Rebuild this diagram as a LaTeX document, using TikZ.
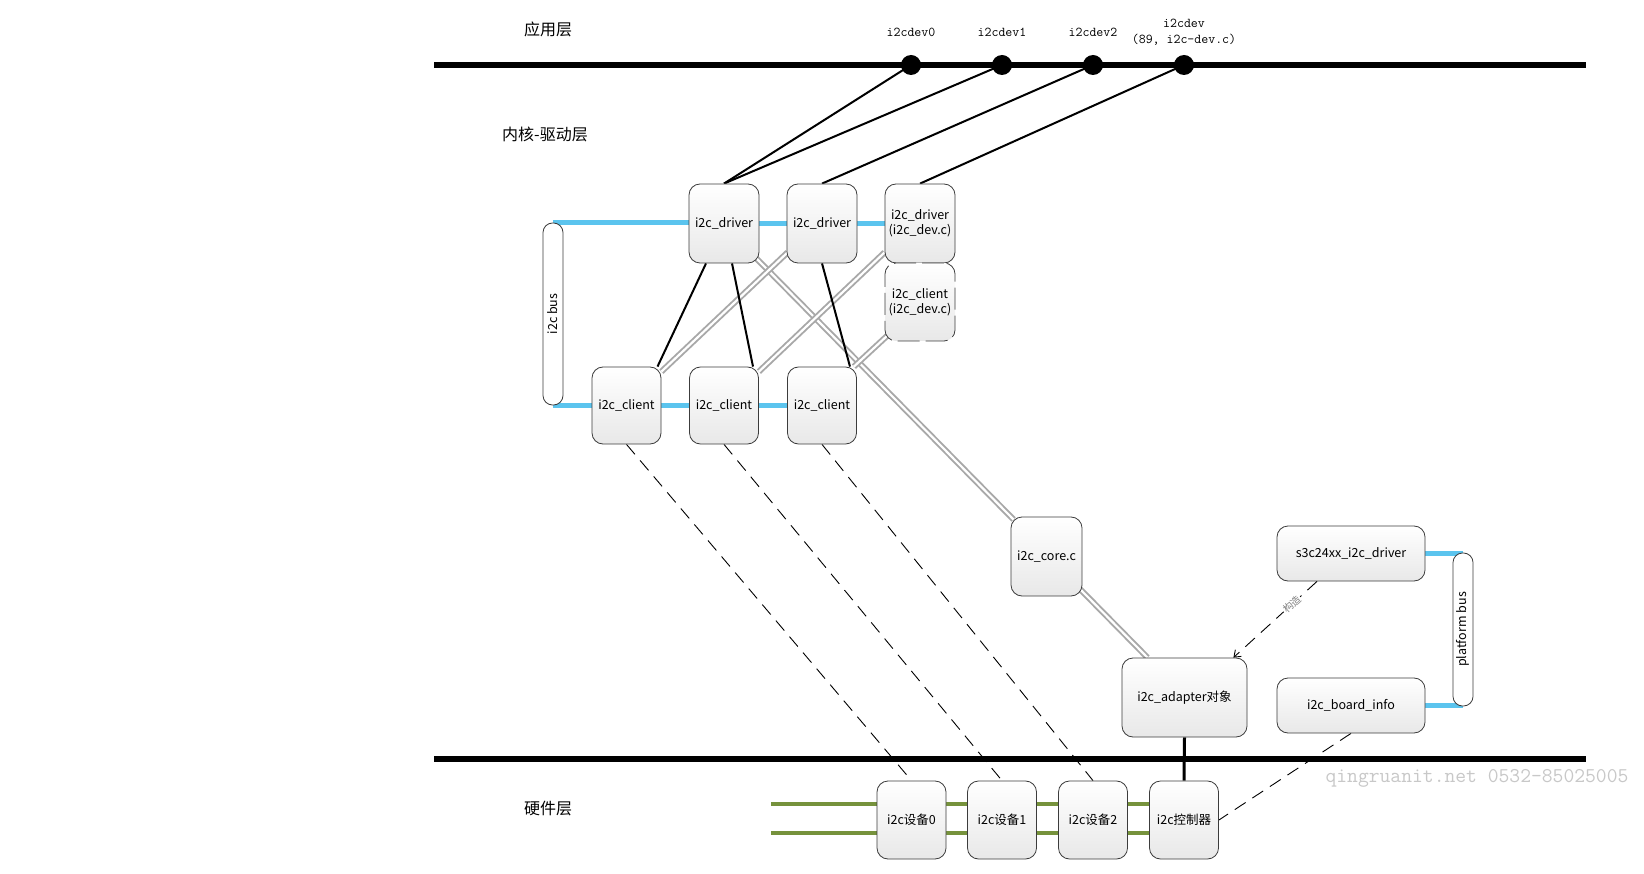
\documentclass[tikz,border=0pt]{standalone}
\usepackage{graphicx}
\usepackage{fontspec}
\setmainfont{Noto Sans CJK SC}
\usetikzlibrary{arrows.meta,backgrounds,calc}
\definecolor{busblue}{RGB}{91,196,238}
\definecolor{hwgreen}{RGB}{118,146,60}
\definecolor{boxline}{RGB}{60,60,60}
\definecolor{dblgray}{RGB}{168,168,168}
\definecolor{wmgray}{RGB}{200,200,200}
\tikzset{
  box/.style={draw=boxline, line width=0.8pt, rounded corners=11pt, top color=white, bottom color=black!9,
    minimum width=70pt, minimum height=79pt, inner sep=1pt, align=center,
    font=\fontsize{12.5}{15}\selectfont},
  dashbox/.style={box, dash pattern=on 22pt off 6pt},
  busbox/.style={draw=boxline, line width=0.8pt, rounded corners=9.5pt, fill=white,
    minimum width=20pt, inner sep=0pt, font=\fontsize{12.5}{15}\selectfont},
  dot/.style={circle, fill=black, minimum size=20pt, inner sep=0pt},
  devlabel/.style={font=\ttfamily\fontsize{13.5}{16}\selectfont, align=center},
  layerlabel/.style={font=\fontsize{16}{18}\selectfont},
  bluelink/.style={draw=busblue, line width=5pt},
  greenlink/.style={draw=hwgreen, line width=4pt},
  rail/.style={draw=black, line width=6pt},
  blk/.style={draw=black, line width=2pt},
  dbl/.style={draw=dblgray, line width=1.9pt, double=white, double distance=2.2pt},
  dashline/.style={draw=black, line width=0.9pt, dash pattern=on 13pt off 8pt},
}
\begin{document}
\begin{tikzpicture}[x=1pt, y=-1pt]
\useasboundingbox (0,0) rectangle (1644,874);

% layer labels
\node[layerlabel] (lapp) at (548,29) {应用层};
\node[layerlabel] (lker) at (545,134) {内核-驱动层};
\node[layerlabel] (lhw) at (548,809) {硬件层};

% rails
\coordinate (tl) at (434,65);
\coordinate (tr) at (1586,65);
\coordinate (bl) at (434,759);
\coordinate (br) at (1586,759);
\draw[rail] (tl) -- (tr);
\draw[rail] (bl) -- (br);

% device dots
\node[dot] (d0) at (911,65) {};
\node[dot] (d1) at (1002,65) {};
\node[dot] (d2) at (1093,65) {};
\node[dot] (d3) at (1184,65) {};
\node[devlabel] (t0) at (911,32) {i2cdev0};
\node[devlabel] (t1) at (1002,32) {i2cdev1};
\node[devlabel] (t2) at (1093,32) {i2cdev2};
\node[devlabel] (t3) at (1184,32) {i2cdev\\(89, i2c-dev.c)};

% kernel nodes
\node[box] (drv1) at (724,223.5) {i2c\_driver};
\node[box] (drv2) at (822,223.5) {i2c\_driver};
\node[box] (drv3) at (920,223.5) {i2c\_driver\\(i2c\_dev.c)};
\node[dashbox, minimum height=78pt] (devcl) at (920,302) {i2c\_client\\(i2c\_dev.c)};
\node[box, minimum width=69pt, minimum height=77pt] (cl1) at (626.5,405.5) {i2c\_client};
\node[box, minimum width=69pt, minimum height=77pt] (cl2) at (724,405.5) {i2c\_client};
\node[box, minimum width=69pt, minimum height=77pt] (cl3) at (822,405.5) {i2c\_client};
\node[busbox, minimum height=182pt] (bus) at (553,314) {\rotatebox{90}{i2c bus}};

\node[box, minimum width=71pt] (core) at (1046.5,556.5) {i2c\_core.c};
\node[box, minimum width=125pt] (adp) at (1184.5,697.5) {i2c\_adapter对象};
\node[box, minimum width=148pt, minimum height=55pt] (s3c) at (1351,553.5) {s3c24xx\_i2c\_driver};
\node[box, minimum width=148pt, minimum height=55pt] (board) at (1351,705.5) {i2c\_board\_info};
\node[busbox, minimum height=153pt] (pbus) at (1463,629.5) {\rotatebox{90}{platform bus}};

% hardware nodes
\node[box, minimum width=69pt, minimum height=78pt] (hw0) at (911.5,820) {i2c设备0};
\node[box, minimum width=69pt, minimum height=78pt] (hw1) at (1002,820) {i2c设备1};
\node[box, minimum width=69pt, minimum height=78pt] (hw2) at (1093,820) {i2c设备2};
\node[box, minimum width=69pt, minimum height=78pt] (ctrl) at (1184,820) {i2c控制器};

% watermark
\node[font=\ttfamily\fontsize{21}{21}\selectfont, text=wmgray] (wm) at (1477,778) {qingruanit.net 0532-85025005};

\begin{pgfonlayer}{background}
  \fill[white] (0,0) rectangle (1644,874);
  % blue bus links
  \draw[bluelink] (bus.north) -- (bus.north -| drv1.west);
  \draw[bluelink] (drv1.east) -- (drv2.west);
  \draw[bluelink] (drv2.east) -- (drv3.west);
  \draw[bluelink] (bus.south) -- (bus.south -| cl1.west);
  \draw[bluelink] (cl1.east) -- (cl2.west);
  \draw[bluelink] (cl2.east) -- (cl3.west);
  \draw[bluelink] (s3c.east) -- (s3c.east -| pbus.north);
  \draw[bluelink] (board.east) -- (board.east -| pbus.south);
  % green hardware bus
  \coordinate (g1) at (771,804);
  \coordinate (g2) at (771,833);
  \draw[greenlink] (g1) -- (g1 -| ctrl.west);
  \draw[greenlink] (g2) -- (g2 -| ctrl.west);
  % gray double links
  \draw[dbl] ([shift={(-4,-6)}]drv1.south east) -- ([shift={(3,3)}]core.north west);
  \draw[dbl] ([shift={(1,-11)}]drv2.south west) -- ([shift={(0,5)}]cl1.north east);
  \draw[dbl] ([shift={(0,-11)}]drv3.south west) -- ([shift={(0,5)}]cl2.north east);
  \draw[dbl] ([shift={(3,-6)}]devcl.south west) -- ([shift={(-3,0)}]cl3.north east);
  \draw[dbl] ([shift={(-4,-9)}]core.south east) -- ([xshift=-37pt]adp.north);
  % black links
  \draw[blk] (d0.center) -- (drv1.north);
  \draw[blk] (d1.center) -- (drv1.north);
  \draw[blk] (d2.center) -- (drv2.north);
  \draw[blk] (d3.center) -- (drv3.north);
  \draw[blk] ([xshift=-18pt]drv1.south) -- ([xshift=31pt]cl1.north);
  \draw[blk] ([xshift=8pt]drv1.south) -- ([xshift=29pt]cl2.north);
  \draw[blk] (drv2.south) -- ([xshift=28pt]cl3.north);
  \draw[draw=black, line width=3pt] (adp.south) -- (ctrl.north);
  % dashed links
  \draw[dashline] (cl1.south) -- (hw0.north);
  \draw[dashline] (cl2.south) -- (hw1.north);
  \draw[dashline] (cl3.south) -- (hw2.north);
  \draw[dashline] (board.south) -- (ctrl.east);
\end{pgfonlayer}

% construct arrow
\draw[dashline, -{Straight Barb[length=6pt,width=9pt]}] ([xshift=-34pt]s3c.south) -- ([xshift=-14pt]adp.north east)
  node[pos=0.3, sloped, fill=white, inner sep=1pt, text=gray, font=\fontsize{10}{10}\selectfont] (lbl) {构造};
\end{tikzpicture}
\end{document}
